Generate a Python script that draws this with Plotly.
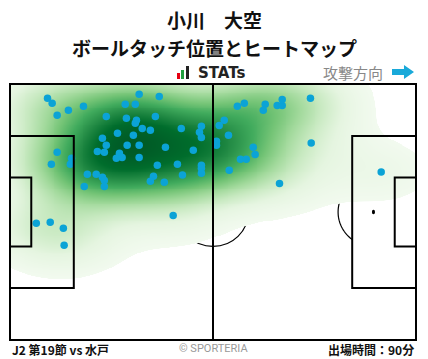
import numpy as np
import plotly.graph_objects as go

# Pitch size in metres
PITCH_LEN = 105.0
PITCH_WID = 68.0

# Ball-touch locations (metres, attacking left -> right)
touch_x = [9.7, 10.9, 12.2, 15.1, 19.0, 33.4, 38.6, 29.8, 32.4, 24.9,
           30.1, 32.7, 32.4, 37.6, 34.2, 36.3, 44.3, 49.5, 49.0, 49.5,
           27.8, 31.9, 23.9, 24.9, 30.3, 33.4, 40.2, 47.4, 22.6, 24.4,
           28.3, 27.5, 29.0, 33.4, 12.2, 10.7, 15.9, 15.6, 38.1, 43.3,
           49.5, 49.5, 49.5, 20.0, 22.3, 23.9, 24.4, 37.1, 36.3, 39.9,
           44.6, 19.2, 24.4, 42.2, 6.8, 10.4, 13.8, 14.0, 53.4, 53.4,
           58.8, 60.6, 66.0, 65.5, 69.1, 70.4, 70.4, 77.7, 55.4, 54.1,
           56.5, 62.9, 63.4, 59.6, 61.1, 56.7, 77.9, 69.7, 96.0]
touch_y = [64.2, 62.9, 59.7, 61.0, 62.1, 65.3, 64.7, 62.6, 62.6, 59.4,
           58.9, 58.4, 57.6, 59.4, 56.2, 55.7, 56.2, 56.8, 55.2, 53.8,
           54.9, 54.4, 53.6, 51.7, 51.7, 51.7, 51.2, 50.4, 50.1, 49.9,
           49.6, 48.3, 48.5, 48.5, 49.9, 46.7, 48.3, 46.7, 46.4, 46.7,
           46.4, 45.6, 44.3, 44.0, 44.0, 43.2, 42.4, 43.5, 42.2, 41.9,
           43.8, 40.8, 40.8, 33.1, 31.0, 31.3, 29.7, 25.2, 52.8, 51.7,
           62.1, 62.9, 62.6, 61.0, 62.3, 62.3, 63.9, 64.2, 58.4, 57.0,
           54.4, 51.2, 49.3, 48.0, 48.0, 45.1, 52.3, 41.6, 44.6]

player_name = "小川　大空"
chart_title = "ボールタッチ位置とヒートマップ"
brand_label = "STATs"
direction_label = "攻撃方向"
match_label = "J2 第19節 vs 水戸"
credit_label = "© SPORTERIA"
minutes_label = "出場時間：90分"

W, H = 428, 359
ML, MR, MT, MB = 10, 12, 84, 19
PW, PH = W - ML - MR, H - MT - MB


def px(x):
    return (x - ML) / PW


def py(y):
    return (H - MB - y) / PH


# Gaussian kernel density of the touches (axis-aligned kernel, metres)
BW_X, BW_Y = 10.0, 6.0
tx = np.asarray(touch_x)
ty = np.asarray(touch_y)
gx = np.linspace(0, PITCH_LEN, 211)
gy = np.linspace(0, PITCH_WID, 137)
kx = np.exp(-0.5 * ((gx[None, :] - tx[:, None]) / BW_X) ** 2)   # n x nx
ky = np.exp(-0.5 * ((gy[None, :] - ty[:, None]) / BW_Y) ** 2)   # n x ny
dens = ky.T @ kx                                                # ny x nx
dens = (dens / dens.max()) ** 0.75

thresh = 0.06
greens = ['#f2faef', '#e5f5e0', '#c7e9c0', '#a1d99b', '#74c476',
          '#41ab5d', '#238b45', '#006d2c', '#005a26']
cscale = [[0.0, 'rgba(255,255,255,0)'], [thresh, 'rgba(255,255,255,0)']]
for i, c in enumerate(greens):
    pos = thresh + 0.001 + (1 - thresh - 0.001) * i / (len(greens) - 1)
    cscale.append([pos, c])

fig = go.Figure()
fig.add_trace(go.Heatmap(
    x=gx, y=gy, z=dens, zmin=0, zmax=1, colorscale=cscale,
    zsmooth='best', showscale=False, hoverinfo='skip'))
fig.add_trace(go.Scatter(
    x=touch_x, y=touch_y, mode='markers',
    marker=dict(size=7.5, color='#0ba3d6', line=dict(width=0)),
    hoverinfo='skip', showlegend=False))

shapes = []
LINE = dict(color='black', width=2)
THIN = dict(color='black', width=1.2)
# straight markings drawn over the heat
shapes.append(dict(type='line', x0=PITCH_LEN / 2, x1=PITCH_LEN / 2, y0=0, y1=PITCH_WID,
                   xref='x', yref='y', line=LINE, layer='above'))
for side in (0, 1):
    for depth, half in ((16.5, 20.16), (5.5, 9.16)):
        if side == 0:
            x0, x1 = 0, depth
        else:
            x0, x1 = PITCH_LEN - depth, PITCH_LEN
        shapes.append(dict(type='rect', x0=x0, x1=x1,
                           y0=PITCH_WID / 2 - half, y1=PITCH_WID / 2 + half,
                           xref='x', yref='y', line=LINE, layer='above'))
# arcs and spots sit beneath the heat
shapes.append(dict(type='circle', x0=PITCH_LEN / 2 - 9.15, x1=PITCH_LEN / 2 + 9.15,
                   y0=PITCH_WID / 2 - 9.15, y1=PITCH_WID / 2 + 9.15,
                   xref='x', yref='y', line=THIN, layer='below'))
for cx, sgn in ((11.0, 1), (PITCH_LEN - 11.0, -1)):
    ang = np.arccos(5.5 / 9.15)
    ts = np.linspace(-ang, ang, 40)
    xs = cx + sgn * 9.15 * np.cos(ts)
    ys = PITCH_WID / 2 + 9.15 * np.sin(ts)
    path = 'M ' + ' L '.join(f'{a:.3f},{b:.3f}' for a, b in zip(xs, ys))
    shapes.append(dict(type='path', path=path, xref='x', yref='y',
                       line=THIN, layer='below'))
    shapes.append(dict(type='circle', x0=cx - 0.4, x1=cx + 0.4,
                       y0=PITCH_WID / 2 - 0.6, y1=PITCH_WID / 2 + 0.6,
                       xref='x', yref='y', fillcolor='black',
                       line=dict(width=0), layer='below'))
# outer boundary
shapes.append(dict(type='rect', x0=0, x1=1, y0=0, y1=1, xref='paper', yref='paper',
                   line=LINE, layer='above'))
# small bar icon beside the brand
for (x0, x1, y0, y1, col) in ((177, 180, 73, 79, '#e60012'),
                              (181, 184, 70, 79, '#20a040'),
                              (186, 189, 66, 79, '#222222')):
    shapes.append(dict(type='rect', x0=px(x0), x1=px(x1), y0=py(y1), y1=py(y0),
                       xref='paper', yref='paper', fillcolor=col,
                       line=dict(width=0), layer='above'))
# attack direction arrow
ax = [392, 404, 404, 414, 404, 404, 392]
ay = [69, 69, 65, 72, 79, 75, 75]
arrow_path = 'M ' + ' L '.join(f'{px(a):.4f},{py(b):.4f}' for a, b in zip(ax, ay)) + ' Z'
shapes.append(dict(type='path', path=arrow_path, xref='paper', yref='paper',
                   fillcolor='#19a9d9', line=dict(width=0), layer='above'))

JP = 'Noto Sans CJK JP'
ann = [
    dict(text=f'<b>{player_name}</b>', x=px(214), y=py(19),
         font=dict(size=19, family=JP, color='#111')),
    dict(text=f'<b>{chart_title}</b>', x=px(214), y=py(47),
         font=dict(size=19, family=JP, color='#111')),
    dict(text=f'<b>{brand_label}</b>', x=px(196), y=py(73), xanchor='left',
         font=dict(size=15, family='DejaVu Sans', color='#222')),
    dict(text=direction_label, x=px(385), y=py(72), xanchor='right',
         font=dict(size=15, family=JP, color='#888')),
    dict(text=f'<b>{match_label}</b>', x=px(10), y=py(349), xanchor='left',
         font=dict(size=12, family=JP, color='#111')),
    dict(text=credit_label, x=px(213), y=py(348),
         font=dict(size=11, family='Roboto', color='#999')),
    dict(text=f'<b>{minutes_label}</b>', x=px(416), y=py(349), xanchor='right',
         font=dict(size=12, family=JP, color='#111')),
]
for a in ann:
    a.setdefault('xanchor', 'center')
    a.update(xref='paper', yref='paper', yanchor='middle', showarrow=False)

fig.update_layout(
    width=W, height=H, margin=dict(l=ML, r=MR, t=MT, b=MB),
    paper_bgcolor='white', plot_bgcolor='white',
    shapes=shapes, annotations=ann, showlegend=False,
    xaxis=dict(range=[0, PITCH_LEN], visible=False, fixedrange=True),
    yaxis=dict(range=[0, PITCH_WID], visible=False, fixedrange=True),
)
fig.write_html('out.html')
